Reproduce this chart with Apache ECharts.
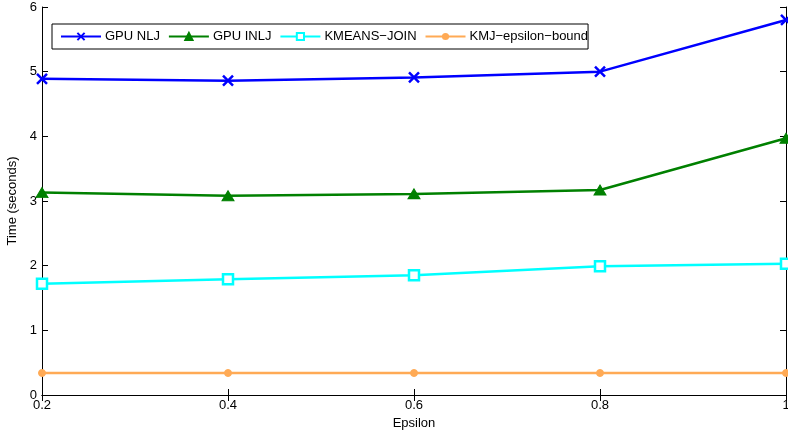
<!DOCTYPE html>
<html><head><meta charset="utf-8">
<script src="https://cdn.jsdelivr.net/npm/echarts@6/dist/echarts.min.js"></script>
<style>html,body{margin:0;padding:0;background:#fff}#c{width:788px;height:433px}</style>
</head><body><div id="c"></div>
<script>
const epsilon = [0.2, 0.4, 0.6, 0.8, 1.0];
const gpuNLJ = [4.89, 4.86, 4.91, 5.00, 5.80];
const gpuINLJ = [3.13, 3.08, 3.11, 3.17, 3.97];
const kmeansJoin = [1.72, 1.79, 1.85, 1.99, 2.03];
const kmjBound = [0.34, 0.34, 0.34, 0.34, 0.34];
const xTicks = ['0.2', '0.4', '0.6', '0.8', '1'];
const yTicks = ['0', '1', '2', '3', '4', '5', '6'];

const font = 'Liberation Sans, Arial, sans-serif';
const pair = arr => epsilon.map((x, i) => [x, arr[i]]);
const chart = echarts.init(document.getElementById('c'));
const axisCommon = {
  axisLine: {show: true, lineStyle: {color: '#000', width: 1}},
  axisTick: {show: true, inside: true, length: 6, lineStyle: {color: '#000'}},
  splitLine: {show: false}
};
chart.setOption({
  animation: false,
  grid: {left: 42, right: 2, top: 7, bottom: 38, containLabel: false, outerBoundsMode: 'none'},
  legend: {
    left: 52, top: 24, orient: 'horizontal',
    backgroundColor: '#fff', borderColor: '#000', borderWidth: 1, borderRadius: 0,
    padding: [6, 0, 6, 8], itemGap: 8, itemWidth: 40, itemHeight: 9,
    textStyle: {fontFamily: font, fontSize: 13, color: '#000', padding: [0, 0, 0, -1]},
    data: ['GPU NLJ', 'GPU INLJ', 'KMEANS\u2212JOIN', 'KMJ\u2212epsilon\u2212bound']
  },
  xAxis: [
    Object.assign({type: 'value', min: 0.2, max: 1, interval: 0.2, position: 'bottom',
      name: 'Epsilon', nameLocation: 'middle', nameGap: 20,
      nameTextStyle: {fontFamily: font, fontSize: 13, color: '#000'},
      axisLabel: {fontFamily: font, fontSize: 13, color: '#000', margin: 4,
        formatter: v => xTicks[Math.round((v - 0.2) / 0.2)]}}, axisCommon),
    Object.assign({type: 'value', min: 0.2, max: 1, interval: 0.2, position: 'top',
      axisLabel: {show: false}}, axisCommon)
  ],
  yAxis: [
    Object.assign({type: 'value', min: 0, max: 6, interval: 1, position: 'left',
      name: 'Time (seconds)', nameLocation: 'middle', nameGap: 19, nameRotate: 90,
      nameTextStyle: {fontFamily: font, fontSize: 13, color: '#000'},
      axisLabel: {fontFamily: font, fontSize: 13, color: '#000', margin: 5,
        formatter: v => yTicks[Math.round(v)]}}, axisCommon),
    Object.assign({type: 'value', min: 0, max: 6, interval: 1, position: 'right',
      axisLabel: {show: false}}, axisCommon)
  ],
  series: [
    {name: 'GPU NLJ', type: 'line', data: pair(gpuNLJ), color: '#0000ff',
      symbol: 'path://M0,0L10,10M10,0L0,10', symbolSize: 10,
      lineStyle: {width: 2.5, color: '#0000ff'}, itemStyle: {color: '#0000ff', borderColor: '#0000ff', borderWidth: 2.5}},
    {name: 'GPU INLJ', type: 'line', data: pair(gpuINLJ), color: '#008000',
      symbol: 'triangle', symbolSize: [12, 10],
      lineStyle: {width: 2.5, color: '#008000'}, itemStyle: {color: '#008000', borderColor: '#008000', borderWidth: 1}},
    {name: 'KMEANS\u2212JOIN', type: 'line', data: pair(kmeansJoin), color: '#00ffff',
      symbol: 'rect', symbolSize: 10,
      lineStyle: {width: 2.5, color: '#00ffff'}, itemStyle: {color: '#fff', borderColor: '#00ffff', borderWidth: 2.5}},
    {name: 'KMJ\u2212epsilon\u2212bound', type: 'line', data: pair(kmjBound), color: '#ffaa55',
      symbol: 'circle', symbolSize: 7,
      lineStyle: {width: 2.5, color: '#ffaa55'}, itemStyle: {color: '#ffaa55', borderColor: '#ffaa55'}}
  ]
});
</script></body></html>
